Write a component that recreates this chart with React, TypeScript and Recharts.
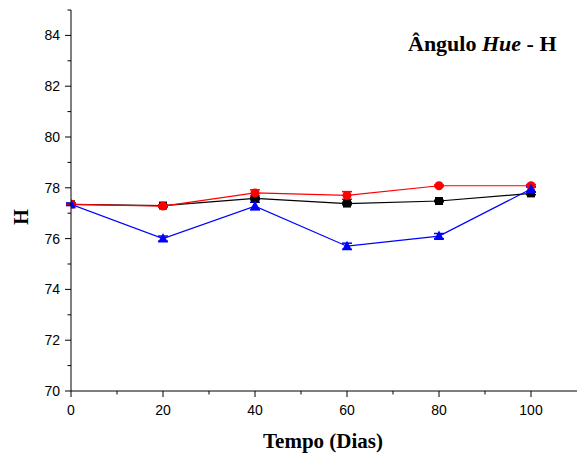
import { LineChart, Line, XAxis, YAxis, ErrorBar } from 'recharts'

const days = [0, 20, 40, 60, 80, 100]
const blackH = [77.35, 77.3, 77.58, 77.38, 77.48, 77.78]
const redH = [77.35, 77.28, 77.8, 77.7, 78.08, 78.08]
const blueH = [77.35, 76.0, 77.28, 75.7, 76.1, 77.95]
const blackErr = [0.03, 0.03, 0.05, 0.05, 0.03, 0.05]
const redErr = [0.03, 0.05, 0.12, 0.15, 0.03, 0.05]
const blueErr = [0.05, 0.1, 0.15, 0.12, 0.1, 0.1]

const xTicks = [0, 10, 20, 30, 40, 50, 60, 70, 80, 90, 100]
const yTicks = [70, 71, 72, 73, 74, 75, 76, 77, 78, 79, 80, 81, 82, 83, 84, 85]

const data = days.map((d, i) => ({
  day: d,
  black: blackH[i],
  red: redH[i],
  blue: blueH[i],
  blackErr: blackErr[i],
  redErr: redErr[i],
  blueErr: blueErr[i],
}))

const tickFont = '"Liberation Sans", Arial, sans-serif'
const serif = '"Liberation Serif", "Times New Roman", serif'

function YTick(props: any) {
  const { x, y, payload } = props
  const v = payload.value
  const major = v % 2 === 0
  return (
    <g>
      <line x1={x} x2={x - (major ? 6 : 3.5)} y1={y} y2={y} stroke="#000" />
      {major && (
        <text x={x - 11} y={y} dy={5} textAnchor="end" fontSize={14} fontFamily={tickFont} fill="#000">
          {v}
        </text>
      )}
    </g>
  )
}

function XTick(props: any) {
  const { x, y, payload } = props
  const v = payload.value
  const major = v % 20 === 0
  return (
    <g>
      <line x1={x} x2={x} y1={y} y2={y + (major ? 6 : 3.5)} stroke="#000" />
      {major && (
        <text x={x} y={y + 24} textAnchor="middle" fontSize={14} fontFamily={tickFont} fill="#000">
          {v}
        </text>
      )}
    </g>
  )
}

const squareDot = (p: any) => (
  <rect key={`s${p.index}`} x={p.cx - 4} y={p.cy - 4} width={8} height={8} fill="#000" />
)
const circleDot = (p: any) => (
  <circle key={`c${p.index}`} cx={p.cx} cy={p.cy} r={4.5} fill="#ff0000" />
)
const triDot = (p: any) => (
  <polygon
    key={`t${p.index}`}
    points={`${p.cx},${p.cy - 5.5} ${p.cx - 5},${p.cy + 4} ${p.cx + 5},${p.cy + 4}`}
    fill="#0000ff"
  />
)

export default function App() {
  return (
    <div style={{ position: 'absolute', left: 0, top: 0, background: '#fff' }}>
      <LineChart width={580} height={455} data={data} margin={{ top: 10, right: 3, left: 0, bottom: 0 }}>
        <XAxis
          dataKey="day"
          type="number"
          domain={[0, 110]}
          ticks={xTicks}
          interval={0}
          tick={<XTick />}
          tickLine={false}
          tickSize={0}
          tickMargin={0}
          height={64}
          stroke="#000"
          allowDataOverflow
        />
        <YAxis
          type="number"
          domain={[70, 85]}
          ticks={yTicks}
          interval={0}
          tick={<YTick />}
          tickLine={false}
          tickSize={0}
          tickMargin={0}
          width={71}
          stroke="#000"
          allowDataOverflow
        />
        <Line dataKey="black" stroke="#000" strokeWidth={1.2} dot={squareDot} activeDot={false} isAnimationActive={false}>
          <ErrorBar dataKey="blackErr" width={5} stroke="#000" direction="y" />
        </Line>
        <Line dataKey="red" stroke="#ff0000" strokeWidth={1.2} dot={circleDot} activeDot={false} isAnimationActive={false}>
          <ErrorBar dataKey="redErr" width={5} stroke="#ff0000" direction="y" />
        </Line>
        <Line dataKey="blue" stroke="#0000ff" strokeWidth={1.2} dot={triDot} activeDot={false} isAnimationActive={false}>
          <ErrorBar dataKey="blueErr" width={5} stroke="#0000ff" direction="y" />
        </Line>
        <text x={408} y={51} fontSize={22} fontWeight="bold" fontFamily={serif} fill="#000">
          Ângulo <tspan fontStyle="italic">Hue</tspan> - H
        </text>
        <text x={323} y={448} textAnchor="middle" fontSize={21} fontWeight="bold" fontFamily={serif} fill="#000">
          Tempo (Dias)
        </text>
        <text
          x={28}
          y={217}
          textAnchor="middle"
          fontSize={20}
          fontWeight="bold"
          fontFamily={serif}
          fill="#000"
          transform="rotate(-90 28 217)"
        >
          H
        </text>
      </LineChart>
    </div>
  )
}
